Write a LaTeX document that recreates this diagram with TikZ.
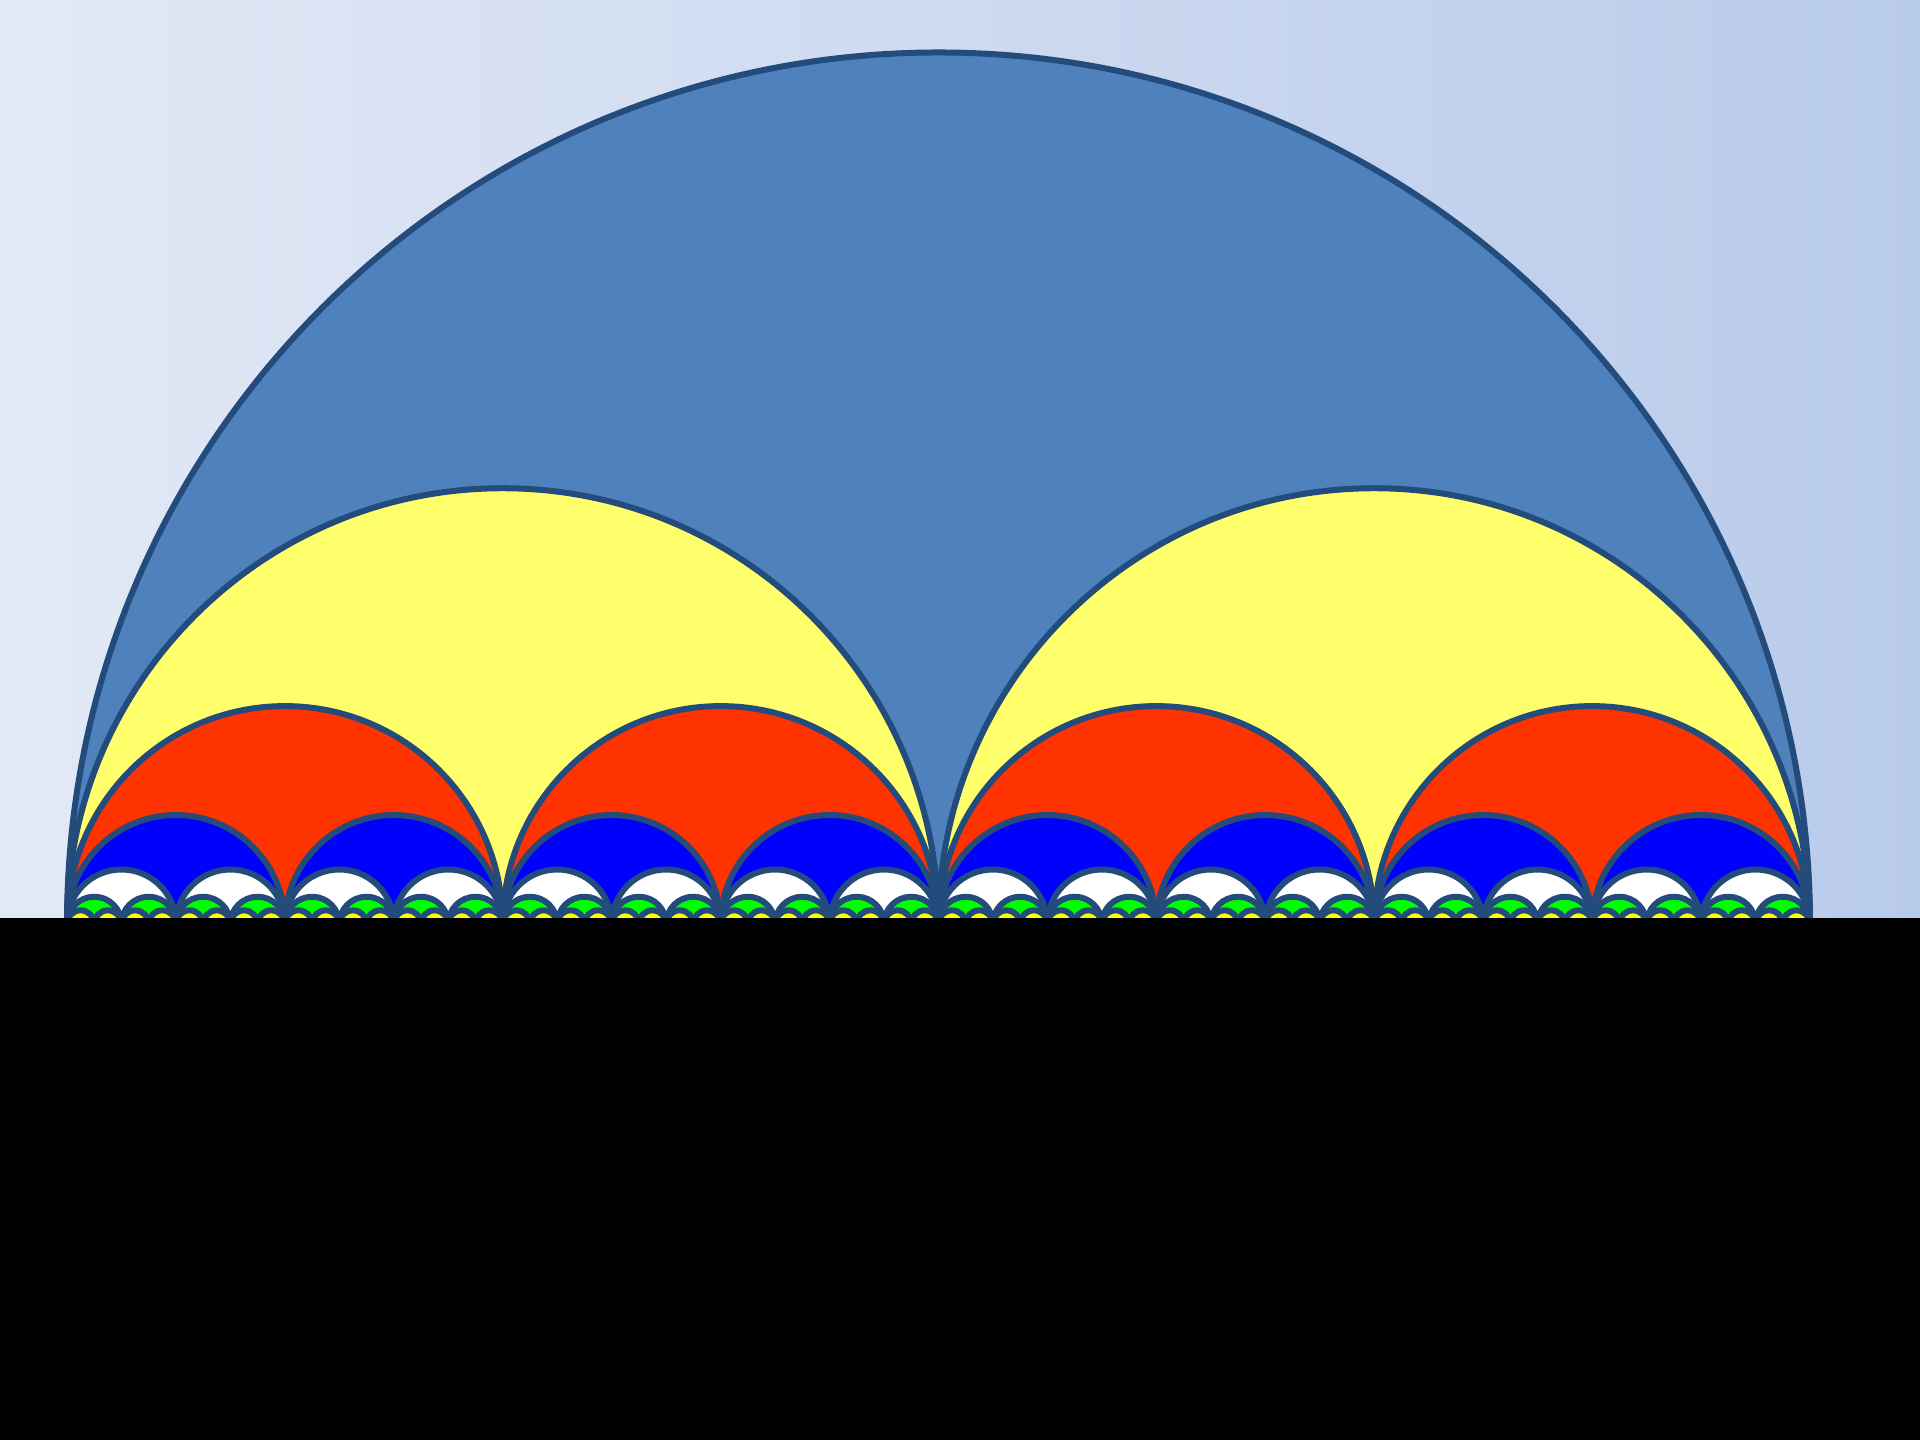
\documentclass[tikz,border=0pt]{standalone}
\usepackage{xcolor}
\definecolor{skyleft}{HTML}{E2E9F6}
\definecolor{skyright}{HTML}{B9CBEB}
\definecolor{rim}{HTML}{234B7C}
\definecolor{steel}{HTML}{4F81BD}
\definecolor{pale}{HTML}{FFFF6B}
\definecolor{flame}{HTML}{FF3300}
\definecolor{deep}{HTML}{0000FF}
\definecolor{lime}{HTML}{00FF00}
\definecolor{lemon}{HTML}{FFFF00}
\usepackage{tikz}

\begin{document}
\begin{tikzpicture}[x=0.01cm, y=0.01cm,
  cup/.style={draw=rim, line width=0.06cm, line join=round},
  floor/.style={fill=black},
]

\shade[left color=skyleft, right color=skyright] (0,0) rectangle (1920,1440);
\useasboundingbox (0,0) rectangle (1920,1440);

% one row of half discs per level, halving each time
\foreach \lev/\col in {0/steel,1/pale,2/flame,3/deep,4/white,5/lime,6/lemon}{
  \pgfmathtruncatemacro{\n}{2^\lev-1}
  \pgfmathsetmacro{\r}{871.5/2^\lev}
  \foreach \i in {0,...,\n}{
    \filldraw[cup, fill=\col] ({67+2*\i*\r},516) arc (180:0:\r) -- cycle;
  }
}

\fill[floor] (0,0) rectangle (1920,522);

\end{tikzpicture}
\end{document}
